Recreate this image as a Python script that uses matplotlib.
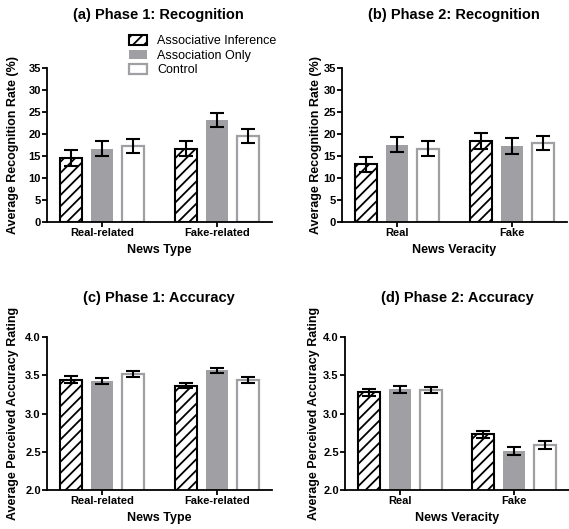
import numpy as np
import matplotlib
matplotlib.use("Agg")
import matplotlib.pyplot as plt
from matplotlib.patches import Patch

plt.rcParams['font.family'] = ['Liberation Sans', 'DejaVu Sans']
plt.rcParams['hatch.linewidth'] = 1.3

conditions = ['Associative Inference', 'Association Only', 'Control']
news_type = ['Real-related', 'Fake-related']
news_veracity = ['Real', 'Fake']

# rows: Associative Inference, Association Only, Control ; cols: groups
p1_rec_mean = [[14.5, 16.7], [16.7, 23.1], [17.2, 19.6]]
p1_rec_err = [[1.8, 1.6], [1.6, 1.6], [1.6, 1.6]]
p2_rec_mean = [[13.1, 18.5], [17.6, 17.3], [16.7, 18.0]]
p2_rec_err = [[1.7, 1.8], [1.8, 1.75], [1.7, 1.65]]
p1_acc_mean = [[3.44, 3.365], [3.43, 3.565], [3.52, 3.44]]
p1_acc_err = [[0.045, 0.035], [0.04, 0.035], [0.04, 0.035]]
p2_acc_mean = [[3.275, 2.73], [3.315, 2.51], [3.31, 2.59]]
p2_acc_err = [[0.04, 0.045], [0.045, 0.05], [0.04, 0.05]]

gray = '#a0a0a4'
W, H = 569, 529

fig = plt.figure(figsize=(W / 100, H / 100), dpi=100)


def px_axes(left, right, top, bottom):
    return fig.add_axes([left / W, 1 - bottom / H, (right - left) / W, (bottom - top) / H])


def bars(ax, means, errs, groups, ylim, yticks, fmt, title, xlabel, ylabel,
         title_xy, ylabel_px):
    x = np.arange(len(groups))
    offs = [-0.27, 0, 0.27]
    w = 0.19
    styles = [
        dict(facecolor='white', edgecolor='black', hatch='///', linewidth=1.5),
        dict(facecolor=gray, edgecolor=gray, linewidth=0),
        dict(facecolor='white', edgecolor=gray, linewidth=1.6),
    ]
    for i in range(3):
        ax.bar(x + offs[i], means[i], w, **styles[i], zorder=2)
        ax.errorbar(x + offs[i], means[i], yerr=errs[i], fmt='none', ecolor='black',
                    elinewidth=1.5, capsize=5.2, capthick=1.5, zorder=3)
    ax.set_xlim(-0.48, 1.48)
    ax.set_ylim(*ylim)
    ax.set_yticks(yticks)
    ax.set_yticklabels([fmt.format(t) for t in yticks], fontsize=8, fontweight='bold')
    ax.set_xticks(x)
    ax.set_xticklabels(groups, fontsize=8, fontweight='bold')
    for s in ['top', 'right']:
        ax.spines[s].set_visible(False)
    for s in ['left', 'bottom']:
        ax.spines[s].set_linewidth(1.3)
    ax.tick_params(axis='both', direction='out', length=3.5, width=1.3, pad=1)
    ax.set_xlabel(xlabel, fontsize=9, fontweight='bold', labelpad=4)
    ax.set_ylabel(ylabel, fontsize=9, fontweight='bold')
    bb = ax.get_position()
    ax.yaxis.set_label_coords(ylabel_px / (bb.width * W), 0.5)
    fig.text(title_xy[0] / W, 1 - title_xy[1] / H, title, ha='center', va='center',
             fontsize=10.5, fontweight='bold')


rec_ticks = np.arange(0, 36, 5)
acc_ticks = np.arange(2.0, 4.01, 0.5)

ax_a = px_axes(47, 272, 68, 222)
bars(ax_a, p1_rec_mean, p1_rec_err, news_type, (0, 35), rec_ticks, '{:.0f}',
     '(a) Phase 1: Recognition', 'News Type', 'Average Recognition Rate (%)',
     (158, 15), -28)

ax_b = px_axes(342, 567, 68, 222)
bars(ax_b, p2_rec_mean, p2_rec_err, news_veracity, (0, 35), rec_ticks, '{:.0f}',
     '(b) Phase 2: Recognition', 'News Veracity', 'Average Recognition Rate (%)',
     (454, 15), -20)

ax_c = px_axes(47, 272, 337, 490)
bars(ax_c, p1_acc_mean, p1_acc_err, news_type, (2.0, 4.0), acc_ticks, '{:.1f}',
     '(c) Phase 1: Accuracy', 'News Type', 'Average Perceived Accuracy Rating',
     (159, 298), -28)

ax_d = px_axes(345, 569, 337, 490)
bars(ax_d, p2_acc_mean, p2_acc_err, news_veracity, (2.0, 4.0), acc_ticks, '{:.1f}',
     '(d) Phase 2: Accuracy', 'News Veracity', 'Average Perceived Accuracy Rating',
     (457, 298), -25)

handles = [
    Patch(facecolor='white', edgecolor='black', hatch='///', linewidth=1.5),
    Patch(facecolor=gray, edgecolor=gray, linewidth=0),
    Patch(facecolor='white', edgecolor=gray, linewidth=1.6),
]
fig.legend(handles, conditions, loc='upper left', bbox_to_anchor=(129 / W, 1 - 35 / H),
           frameon=False, fontsize=9, borderpad=0, handlelength=1.45, handleheight=0.8,
           handletextpad=0.8, labelspacing=0.2, borderaxespad=0)

fig.savefig('out.png', dpi=100)
